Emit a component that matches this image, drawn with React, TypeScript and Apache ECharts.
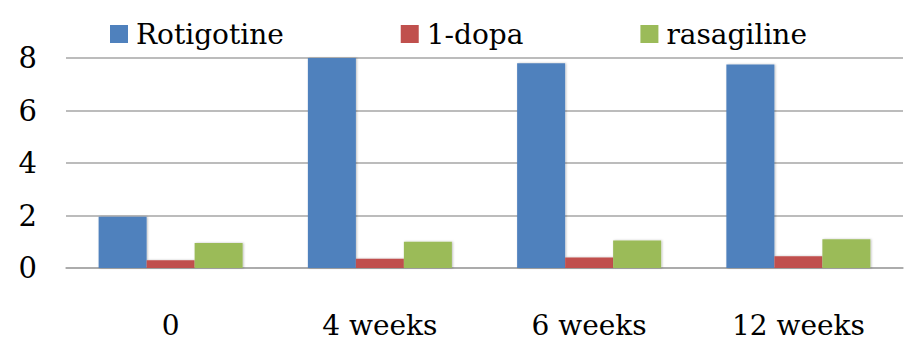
import React, { useEffect, useRef } from "react";
import * as echarts from "echarts";

const categories = ["0", "4 weeks", "6 weeks", "12 weeks"];
const rotigotine = [1.95, 8.0, 7.8, 7.75];
const ldopa = [0.3, 0.35, 0.4, 0.45];
const rasagiline = [0.95, 1.0, 1.05, 1.1];
const seriesNames = ["Rotigotine", "1-dopa", "rasagiline"];
const colors = ["#4f81bd", "#c0504d", "#9bbb59"];

export default function App() {
  const ref = useRef<HTMLDivElement>(null);
  useEffect(() => {
    if (!ref.current) return;
    document.body.style.margin = "0";
    const chart = echarts.init(ref.current, undefined, { renderer: "svg" });
    const font = "DejaVu Serif";
    const data = [rotigotine, ldopa, rasagiline];
    chart.setOption({
      animation: false,
      backgroundColor: "#ffffff",
      textStyle: { fontFamily: font },
      legend: {
        left: 105,
        top: 15,
        itemWidth: 18,
        itemHeight: 18,
        itemGap: 117,
        icon: "rect",
        textStyle: {
          fontFamily: font,
          fontSize: 28,
          color: "#000",
          padding: [0, 0, 0, 3],
        },
        data: seriesNames,
      },
      grid: { left: 66, right: 2, top: 58, bottom: 72, outerBoundsMode: "none", containLabel: false },
      xAxis: {
        type: "category",
        data: categories,
        axisTick: { show: false },
        axisLine: { show: true, lineStyle: { color: "#a6a6a6", width: 1.5 } },
        axisLabel: {
          fontFamily: font,
          fontSize: 28,
          lineHeight: 28,
          color: "#000",
          margin: 43,
        },
      },
      yAxis: {
        type: "value",
        min: 0,
        max: 8,
        interval: 2,
        axisLine: { show: false },
        axisTick: { show: false },
        axisLabel: {
          fontFamily: font,
          fontSize: 29,
          color: "#000",
          margin: 29,
        },
        splitLine: { lineStyle: { color: "#a6a6a6", width: 1.5 } },
      },
      series: seriesNames.map((name, i) => ({
        name,
        type: "bar",
        data: data[i],
        barWidth: 48,
        barGap: "0%",
        itemStyle: {
          color: colors[i],
          shadowColor: "rgba(0,0,0,0.25)",
          shadowBlur: 2,
          shadowOffsetX: 1,
          shadowOffsetY: 0,
        },
      })),
    });
    return () => chart.dispose();
  }, []);
  return <div ref={ref} style={{ width: 905, height: 340 }} />;
}
